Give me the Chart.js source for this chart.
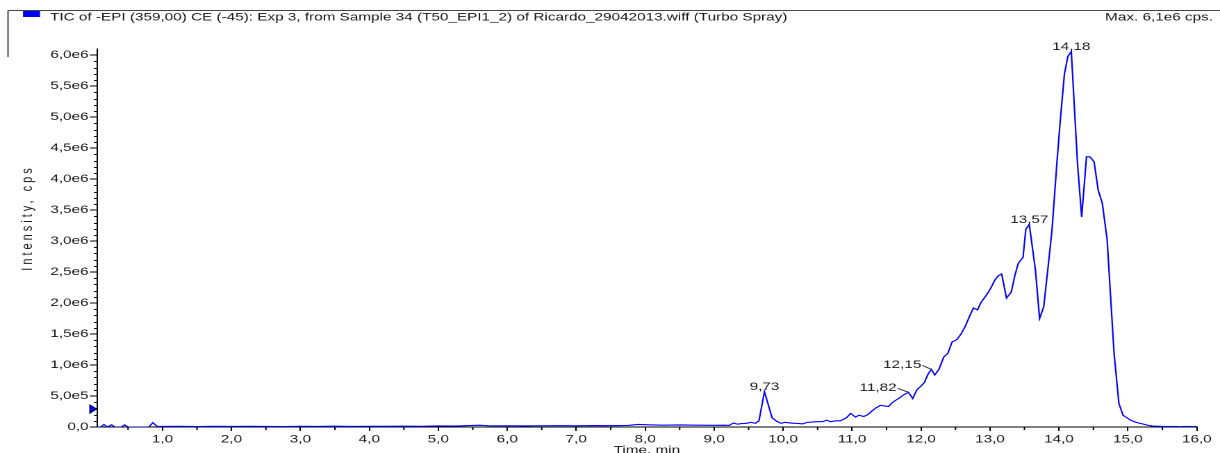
<!DOCTYPE html>
<html>
<head>
<meta charset="utf-8">
<title>TIC of -EPI (359,00)</title>
<script src="https://cdn.jsdelivr.net/npm/chart.js@4.4.1/dist/chart.umd.min.js"></script>
<style>
  html, body { margin: 0; padding: 0; background: #fff; overflow: hidden; }
  #wrap { width: 878px; height: 453px; transform-origin: 0 0; }
</style>
</head>
<body>
<div id="wrap"><canvas id="tic"></canvas></div>
<script>
(function () {
  "use strict";

  // retention time (min)
  const times = [
    0.05, 0.10, 0.15, 0.20, 0.26, 0.31, 0.40, 0.45, 0.50, 0.62, 0.75, 0.80, 0.86, 0.92,
    1.00, 1.25, 1.50, 1.75, 2.00, 2.25, 2.50, 2.75, 3.00, 3.25, 3.50, 3.75, 4.00, 4.25,
    4.50, 4.75, 5.00, 5.25, 5.50, 5.60, 5.75, 6.00, 6.25, 6.50, 6.75, 7.00, 7.25, 7.50,
    7.75, 7.90, 8.05, 8.25, 8.50, 8.75, 9.00, 9.15, 9.22, 9.28, 9.34, 9.40, 9.47, 9.53,
    9.60, 9.65, 9.73, 9.78, 9.84, 9.91, 9.97, 10.03, 10.10, 10.16, 10.22, 10.28, 10.35,
    10.42, 10.49, 10.57, 10.63, 10.69, 10.76, 10.83, 10.92, 10.98, 11.05, 11.10, 11.17,
    11.23, 11.29, 11.35, 11.41, 11.47, 11.53, 11.58, 11.63, 11.69, 11.75, 11.82, 11.88,
    11.94, 12.00, 12.05, 12.10, 12.15, 12.20, 12.26, 12.33, 12.39, 12.45, 12.52, 12.58,
    12.64, 12.71, 12.76, 12.82, 12.87, 12.93, 12.98, 13.03, 13.07, 13.12, 13.17, 13.24,
    13.31, 13.36, 13.41, 13.48, 13.52, 13.57, 13.66, 13.72, 13.78, 13.84, 13.90, 13.97,
    14.02, 14.08, 14.13, 14.18, 14.27, 14.33, 14.40, 14.45, 14.51, 14.57, 14.63, 14.70,
    14.75, 14.80, 14.87, 14.93, 15.04, 15.12, 15.21, 15.29, 15.36, 15.45, 15.55, 15.65,
    15.75, 15.85, 15.95, 16.00
  ];

  // total ion current, in 1e6 cps
  const intensity = [
    0, 0, 0.04, 0, 0.035, 0, 0, 0.035, 0, 0, 0, 0, 0.07, 0.012,
    0.010, 0.012, 0.008, 0.012, 0.010, 0.012, 0.010, 0.008, 0.012, 0.010, 0.013, 0.010, 0.012, 0.011,
    0.014, 0.012, 0.018, 0.015, 0.026, 0.030, 0.018, 0.020, 0.017, 0.020, 0.022, 0.019, 0.024, 0.021,
    0.026, 0.042, 0.036, 0.030, 0.033, 0.029, 0.028, 0.030, 0.026, 0.065, 0.045, 0.055, 0.060, 0.075,
    0.060, 0.100, 0.570, 0.380, 0.150, 0.090, 0.060, 0.075, 0.065, 0.060, 0.058, 0.050, 0.075,
    0.080, 0.085, 0.085, 0.110, 0.085, 0.100, 0.100, 0.150, 0.220, 0.160, 0.190, 0.170,
    0.200, 0.260, 0.310, 0.350, 0.340, 0.330, 0.390, 0.430, 0.470, 0.520, 0.560, 0.460,
    0.600, 0.660, 0.720, 0.850, 0.930, 0.840, 0.930, 1.130, 1.190, 1.370, 1.410, 1.500,
    1.620, 1.800, 1.920, 1.890, 2.010, 2.100, 2.180, 2.280, 2.370, 2.440, 2.470, 2.080,
    2.180, 2.440, 2.640, 2.740, 3.190, 3.270, 2.530, 1.750, 1.940, 2.550, 3.180, 4.250,
    4.950, 5.700, 5.980, 6.060, 4.250, 3.390, 4.360, 4.360, 4.280, 3.820, 3.610, 3.020,
    2.100, 1.190, 0.380, 0.190, 0.110, 0.075, 0.050, 0.028, 0.015, 0.012, 0.008, 0.010,
    0.006, 0.010, 0.008, 0.010
  ];

  const xTickLabels = ["1,0", "2,0", "3,0", "4,0", "5,0", "6,0", "7,0", "8,0",
    "9,0", "10,0", "11,0", "12,0", "13,0", "14,0", "15,0", "16,0"];
  const yTickLabels = ["0,0", "5,0e5", "1,0e6", "1,5e6", "2,0e6", "2,5e6", "3,0e6",
    "3,5e6", "4,0e6", "4,5e6", "5,0e6", "5,5e6", "6,0e6"];

  const peakTimes = [9.73, 11.82, 12.15, 13.57, 14.18];
  const peakTexts = ["9,73", "11,82", "12,15", "13,57", "14,18"];

  const titleText = "TIC of -EPI (359,00) CE (-45): Exp 3, from Sample 34 (T50_EPI1_2) of Ricardo_29042013.wiff (Turbo Spray)";
  const maxText = "Max. 6,1e6 cps.";

  // The canvas is laid out narrow and stretched sideways, which gives
  // the wide lettering of the instrument software. SX converts screen px.
  const W = 878;
  const SX = 1220 / W;
  document.getElementById("wrap").style.transform = `scaleX(${SX})`;
  const sx = (v) => v / SX;

  const FONT = "'Liberation Sans', Arial, sans-serif";
  const INK = "#1a1a1a";
  Chart.defaults.font.family = FONT;
  Chart.defaults.font.size = 11;
  Chart.defaults.color = INK;

  // label shift to the left (screen px); shifted labels get a leader line
  const peakShift = [0, 12, 10, 0, 0];

  const decorations = {
    id: "decorations",
    afterDraw(chart) {
      const { ctx, chartArea: area, scales } = chart;
      const x = scales.x, y = scales.y;
      ctx.save();

      // minor ticks
      ctx.strokeStyle = "#000";
      ctx.lineWidth = 1;
      ctx.beginPath();
      for (let k = 1; k < 60; k++) {
        if (k % 5 === 0) continue;
        const py = Math.round(y.getPixelForValue(k / 10)) + 0.5;
        ctx.moveTo(area.left - sx(3), py);
        ctx.lineTo(area.left, py);
      }
      for (let k = 1; k < 32; k += 2) {
        const px = x.getPixelForValue(k / 2);
        ctx.moveTo(px, area.bottom);
        ctx.lineTo(px, area.bottom + 3);
      }
      ctx.stroke();

      // header frame and legend swatch
      ctx.strokeStyle = "#444";
      ctx.beginPath();
      ctx.moveTo(sx(8), 10.5);
      ctx.lineTo(W, 10.5);
      ctx.moveTo(sx(8), 10.5);
      ctx.lineTo(sx(8), 57);
      ctx.stroke();
      ctx.fillStyle = "#0000ff";
      ctx.fillRect(sx(23), 11, sx(17), 6);

      ctx.fillStyle = INK;
      ctx.font = `11px ${FONT}`;
      ctx.textBaseline = "alphabetic";
      ctx.textAlign = "left";
      ctx.fillText(titleText, sx(50), 20.5);
      ctx.textAlign = "right";
      ctx.fillText(maxText, sx(1213), 20.5);

      // axis titles
      ctx.textAlign = "center";
      ctx.fillText("Time, min", (area.left + area.right) / 2, 453.5);
      ctx.save();
      ctx.translate(sx(28), 218);
      ctx.rotate(-Math.PI / 2);
      ctx.textBaseline = "middle";
      if ("letterSpacing" in ctx) ctx.letterSpacing = "3px";
      ctx.fillText("Intensity, cps", 0, 0);
      ctx.restore();

      // peak labels
      peakTimes.forEach((t, i) => {
        const v = intensity[times.indexOf(t)];
        const px = x.getPixelForValue(t);
        const py = y.getPixelForValue(v);
        if (peakShift[i]) {
          const tx = px - sx(peakShift[i]);
          ctx.textAlign = "right";
          ctx.fillText(peakTexts[i], tx, py - 1.5);
          ctx.strokeStyle = "#333";
          ctx.beginPath();
          ctx.moveTo(tx + sx(1), py - 4);
          ctx.lineTo(px, py);
          ctx.stroke();
        } else {
          ctx.textAlign = "center";
          ctx.fillText(peakTexts[i], px, py - 1.5);
        }
      });

      // marker on the intensity axis
      const my = y.getPixelForValue(0.29);
      ctx.fillStyle = "#0000ff";
      ctx.strokeStyle = "#00006a";
      ctx.beginPath();
      ctx.moveTo(sx(90), my - 4);
      ctx.lineTo(sx(96.5), my);
      ctx.lineTo(sx(90), my + 4);
      ctx.closePath();
      ctx.fill();
      ctx.stroke();

      ctx.restore();
    },
  };

  new Chart(document.getElementById("tic"), {
    type: "line",
    data: {
      datasets: [{
        data: times.map((t, i) => ({ x: t, y: intensity[i] })),
        borderColor: "#0000ff",
        borderWidth: 1.1,
        pointRadius: 0,
        tension: 0,
        fill: false,
      }],
    },
    options: {
      responsive: true,
      maintainAspectRatio: false,
      animation: false,
      devicePixelRatio: 2,
      layout: { padding: { left: 0, top: 49, right: W - sx(1196.8), bottom: 0 } },
      plugins: { legend: { display: false }, tooltip: { enabled: false } },
      scales: {
        x: {
          type: "linear",
          min: 0.05,
          max: 16,
          grid: { drawOnChartArea: false, tickLength: 4, tickColor: "#000" },
          border: { color: "#000", width: 1 },
          ticks: {
            stepSize: 1,
            includeBounds: false,
            autoSkip: false,
            maxRotation: 0,
            padding: 2,
            callback: (value) => xTickLabels[Math.round(value) - 1],
          },
          afterFit(scale) { scale.height = 26; },
        },
        y: {
          min: 0,
          max: 6.1,
          grid: { drawOnChartArea: false, tickLength: sx(7), tickColor: "#000" },
          border: { color: "#000", width: 1 },
          ticks: {
            stepSize: 0.5,
            includeBounds: false,
            autoSkip: false,
            padding: 1,
            callback: (value) => yTickLabels[Math.round(value / 0.5)],
          },
          afterFit(scale) { scale.width = sx(97); },
        },
      },
    },
    plugins: [decorations],
  });
})();
</script>
</body>
</html>
